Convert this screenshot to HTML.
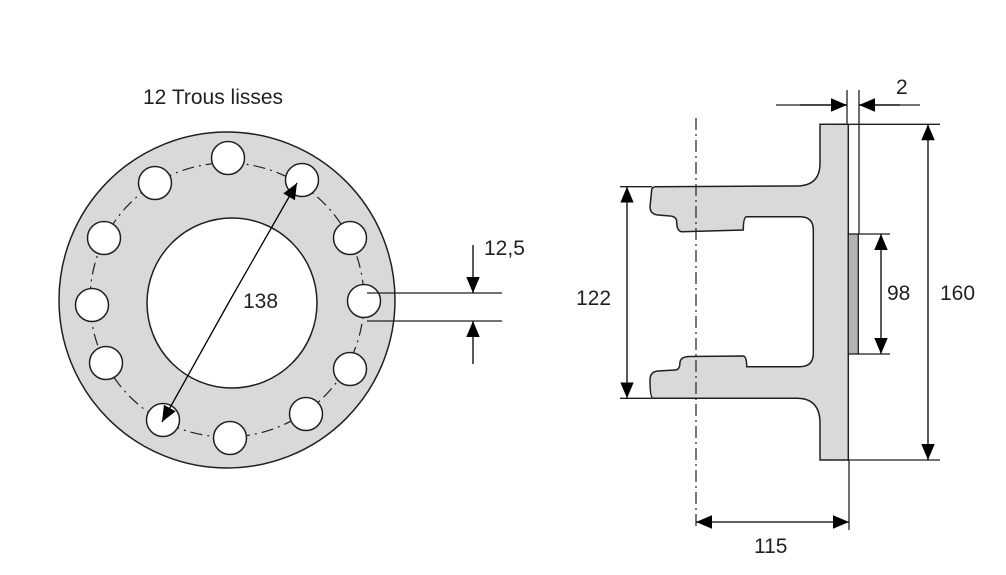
<!DOCTYPE html>
<html><head><style>
html,body{margin:0;padding:0;background:#fff;}
svg{display:block;}
text{font-family:"Liberation Sans",sans-serif;fill:#231f20;}
</style></head><body>
<svg width="1006" height="575" viewBox="0 0 1006 575" xmlns="http://www.w3.org/2000/svg">
<defs>
<marker id="b" viewBox="0 0 10 10" refX="10" refY="5" markerWidth="16" markerHeight="16" markerUnits="userSpaceOnUse" orient="auto"><path d="M0,0.8L10,5L0,9.2z" fill="#000"/></marker>
</defs>
<!-- left view -->
<text x="143" y="104" font-size="21">12 Trous lisses</text>
<circle cx="227" cy="300" r="168" fill="#d9d9db" stroke="#231f20" stroke-width="1.5"/>
<circle cx="232" cy="303" r="85" fill="#fff" stroke="#231f20" stroke-width="1.5"/>
<circle cx="227" cy="300" r="137" fill="none" stroke="#231f20" stroke-width="1.2" stroke-dasharray="12,5,2,5"/>
<g fill="#fff" stroke="#231f20" stroke-width="1.5">
<circle cx="364" cy="301" r="16.5"/>
<circle cx="350" cy="369" r="16.5"/>
<circle cx="306" cy="414" r="16.5"/>
<circle cx="230" cy="438" r="16.5"/>
<circle cx="163" cy="420" r="16.5"/>
<circle cx="106" cy="363" r="16.5"/>
<circle cx="92" cy="305" r="16.5"/>
<circle cx="104" cy="238" r="16.5"/>
<circle cx="155" cy="183" r="16.5"/>
<circle cx="228" cy="158" r="16.5"/>
<circle cx="302" cy="180" r="16.5"/>
<circle cx="350" cy="238" r="16.5"/>
</g>
<line x1="229" y1="302" x2="297" y2="183" stroke="#000" stroke-width="1.3" marker-end="url(#b)"/>
<line x1="229" y1="302" x2="162" y2="422" stroke="#000" stroke-width="1.3" marker-end="url(#b)"/>
<text x="243" y="308" font-size="21">138</text>
<g stroke="#231f20" stroke-width="1.3">
<line x1="367" y1="293" x2="502" y2="293"/>
<line x1="367" y1="321" x2="502" y2="321"/>
</g>
<line x1="473" y1="245" x2="473" y2="293" stroke="#000" stroke-width="1.3" marker-end="url(#b)"/>
<line x1="473" y1="364" x2="473" y2="321" stroke="#000" stroke-width="1.3" marker-end="url(#b)"/>
<text x="484" y="255" font-size="21">12,5</text>
<!-- right view -->
<path d="M820,124.3 L848.3,124.3 L848.3,460 L820,460 L820,423.3 Q820,398.3 796.7,398.3 L653.3,398.3 Q650,398 650,380 Q650,371.7 658,371 L675,370 Q680,370 680,362 Q681,356.5 690,356.5 L743.3,356 Q746.7,356.5 746.7,366.7 L800,366.7 Q813.3,366.7 813.3,353.3 L813.3,230 Q813.3,216.7 800,216.7 L746.7,216.7 Q743.3,217 743.3,230 L681.7,231.7 Q676.7,231 676.7,222 Q676.7,216.5 670,216 L658,215 Q650,214 650,206.7 L651.7,190 Q652,186.7 656,186.7 L796.7,186 Q820,186 820,163.3 Z" fill="#d9d9db" stroke="#231f20" stroke-width="1.5"/>
<rect x="848.3" y="234" width="10" height="120" fill="#b3b3b5" stroke="#231f20" stroke-width="1.3"/>
<line x1="696" y1="118" x2="696" y2="528" stroke="#231f20" stroke-width="1.2" stroke-dasharray="12,4,2,4"/>
<g stroke="#231f20" stroke-width="1.3">
<line x1="847" y1="90" x2="847" y2="124"/>
<line x1="849" y1="460" x2="849" y2="530"/>
<line x1="859" y1="90" x2="859" y2="234"/>
<line x1="848" y1="124.3" x2="940" y2="124.3"/>
<line x1="848" y1="460" x2="940" y2="460"/>
<line x1="858" y1="234" x2="890" y2="234"/>
<line x1="858" y1="354" x2="890" y2="354"/>
<line x1="620" y1="186.7" x2="652" y2="186.7"/>
<line x1="620" y1="398.3" x2="652" y2="398.3"/>
<line x1="776" y1="105" x2="847" y2="105"/>
<line x1="859" y1="105" x2="920" y2="105"/>
</g>
<line x1="800" y1="105" x2="847" y2="105" stroke="#000" stroke-width="1.3" marker-end="url(#b)"/>
<line x1="900" y1="105" x2="859" y2="105" stroke="#000" stroke-width="1.3" marker-end="url(#b)"/>
<line x1="928" y1="292" x2="928" y2="124.3" stroke="#000" stroke-width="1.3" marker-end="url(#b)"/>
<line x1="928" y1="292" x2="928" y2="460" stroke="#000" stroke-width="1.3" marker-end="url(#b)"/>
<line x1="881" y1="294" x2="881" y2="234" stroke="#000" stroke-width="1.3" marker-end="url(#b)"/>
<line x1="881" y1="294" x2="881" y2="354" stroke="#000" stroke-width="1.3" marker-end="url(#b)"/>
<line x1="627" y1="292" x2="627" y2="186.7" stroke="#000" stroke-width="1.3" marker-end="url(#b)"/>
<line x1="627" y1="292" x2="627" y2="398.3" stroke="#000" stroke-width="1.3" marker-end="url(#b)"/>
<line x1="772" y1="522" x2="696" y2="522" stroke="#000" stroke-width="1.3" marker-end="url(#b)"/>
<line x1="772" y1="522" x2="849" y2="522" stroke="#000" stroke-width="1.3" marker-end="url(#b)"/>
<text x="896" y="94" font-size="21">2</text>
<text x="887" y="300" font-size="21">98</text>
<text x="940" y="300" font-size="21">160</text>
<text x="576" y="305" font-size="21">122</text>
<text x="754" y="553" font-size="21">115</text>
</svg>
</body></html>
